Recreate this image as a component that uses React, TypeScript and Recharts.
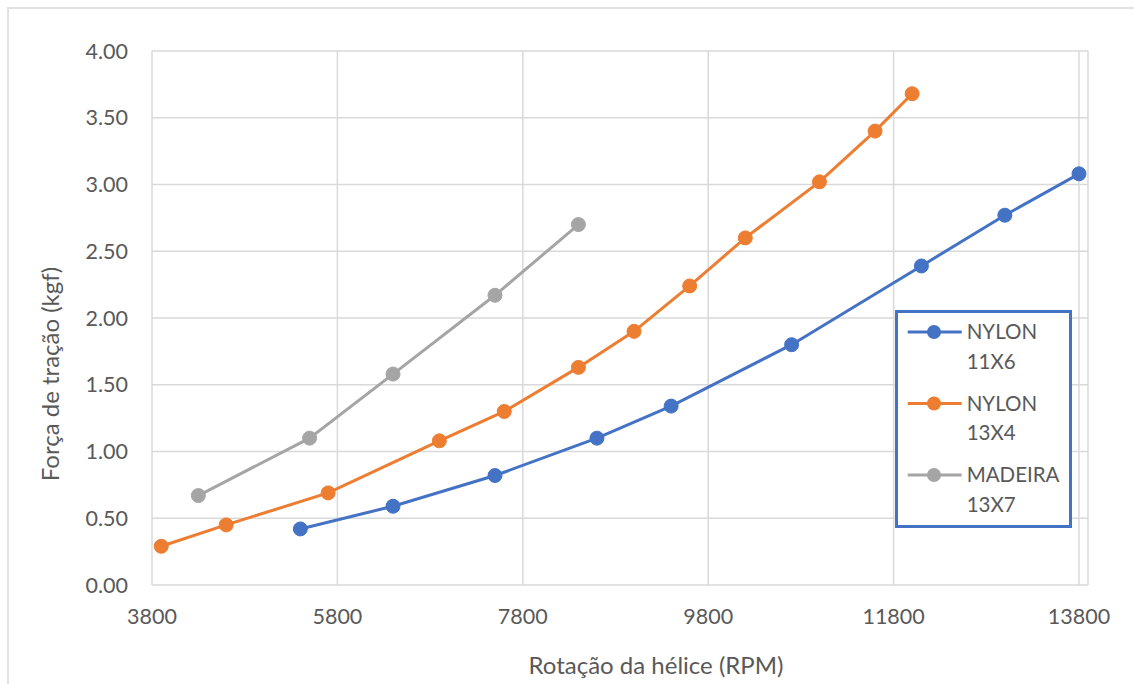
import React from 'react';
import { LineChart, Line, XAxis, YAxis, CartesianGrid, Legend } from 'recharts';

// Propeller thrust tests: rotation (RPM) vs. thrust force (kgf)
const X_TICKS = [3800, 5800, 7800, 9800, 11800, 13800];
const Y_TICKS = [0, 0.5, 1, 1.5, 2, 2.5, 3, 3.5, 4];

const nylon11x6Rpm = [5400, 6400, 7500, 8600, 9400, 10700, 12100, 13000, 13800];
const nylon11x6Force = [0.42, 0.59, 0.82, 1.1, 1.34, 1.8, 2.39, 2.77, 3.08];

const nylon13x4Rpm = [3900, 4600, 5700, 6900, 7600, 8400, 9000, 9600, 10200, 11000, 11600, 12000];
const nylon13x4Force = [0.29, 0.45, 0.69, 1.08, 1.3, 1.63, 1.9, 2.24, 2.6, 3.02, 3.4, 3.68];

const madeira13x7Rpm = [4300, 5500, 6400, 7500, 8400];
const madeira13x7Force = [0.67, 1.1, 1.58, 2.17, 2.7];

const zip = (rpm: number[], force: number[]) => rpm.map((r, i) => ({ rpm: r, force: force[i] }));

const SERIES = [
  { name: 'NYLON 11X6', color: '#4472C4', data: zip(nylon11x6Rpm, nylon11x6Force) },
  { name: 'NYLON 13X4', color: '#ED7D31', data: zip(nylon13x4Rpm, nylon13x4Force) },
  { name: 'MADEIRA 13X7', color: '#A5A5A5', data: zip(madeira13x7Rpm, madeira13x7Force) },
];
const SERIES_ORDER = SERIES.map((s) => s.name);

const FONT = "Lato, 'Open Sans', sans-serif";
const TEXT = '#595959';
const GRID = '#d9d9d9';

const W = 1134;
const H = 684;

const renderYTitle = () => (
  <text
    x={59}
    y={374}
    transform="rotate(-90 59 374)"
    textAnchor="middle"
    fill={TEXT}
    fontSize={24}
    fontFamily={FONT}
  >
    Força de tração (kgf)
  </text>
);

const renderXTitle = () => (
  <text x={656} y={674} textAnchor="middle" fill={TEXT} fontSize={24} fontFamily={FONT}>
    Rotação da hélice (RPM)
  </text>
);

const renderLegend = (props: any) => {
  const payload = [...(props.payload || [])].sort(
    (a: any, b: any) => SERIES_ORDER.indexOf(a.value) - SERIES_ORDER.indexOf(b.value),
  );
  return (
    <svg width={177} height={218} style={{ display: 'block' }}>
      <rect x={1.5} y={1.5} width={174} height={215} fill="#fff" stroke="#4472C4" strokeWidth={3} />
      {payload.map((entry: any, i: number) => {
        const cy = 22 + i * 71.5;
        const words = String(entry.value).split(' ');
        return (
          <g key={entry.value}>
            <line x1={12.7} x2={66.7} y1={cy} y2={cy} stroke={entry.color} strokeWidth={3} />
            <circle cx={39} cy={cy} r={7} fill={entry.color} />
            <text x={71.7} y={cy + 7} fill={TEXT} fontSize={20.5} fontFamily={FONT}>
              {words[0]}
            </text>
            <text x={71.7} y={cy + 36.7} fill={TEXT} fontSize={20.5} fontFamily={FONT}>
              {words.slice(1).join(' ')}
            </text>
          </g>
        );
      })}
    </svg>
  );
};

export default function App() {
  return (
    <div
      style={{
        position: 'fixed',
        left: 0,
        top: 0,
        width: W,
        height: H,
        overflow: 'hidden',
        background: '#fff',
      }}
    >
      <div
        style={{
          position: 'absolute',
          left: 7,
          top: 7,
          width: 1300,
          height: 900,
          border: `2px solid #e2e2e2`,
        }}
      />
      <div style={{ position: 'absolute', left: 0, top: 0 }}>
        <LineChart width={W} height={H} margin={{ top: 51, right: 46, bottom: 59, left: 0 }}>
          <CartesianGrid stroke={GRID} strokeWidth={1.5} />
          <XAxis
            dataKey="rpm"
            type="number"
            domain={[3800, 13897]}
            allowDataOverflow
            ticks={X_TICKS}
            tickLine={false}
            axisLine={false}
            tickSize={0}
            tickMargin={24}
            height={40}
            tick={{ fill: TEXT, fontSize: 21.5, fontFamily: FONT }}
            label={renderXTitle}
          />
          <YAxis
            type="number"
            domain={[0, 4]}
            ticks={Y_TICKS}
            tickFormatter={(v: number) => v.toFixed(2)}
            tickLine={false}
            axisLine={false}
            tickSize={0}
            tickMargin={24}
            width={152}
            tick={{ fill: TEXT, fontSize: 21.5, fontFamily: FONT }}
            label={renderYTitle}
          />
          <Legend
            layout="horizontal"
            verticalAlign="middle"
            align="center"
            wrapperStyle={{ left: 895, top: 310, width: 177, height: 218 }}
            content={renderLegend}
          />
          {SERIES.map((s) => (
            <Line
              key={s.name}
              name={s.name}
              data={s.data}
              dataKey="force"
              stroke={s.color}
              strokeWidth={3}
              dot={{ r: 7, fill: s.color, stroke: s.color, strokeWidth: 1 }}
              activeDot={false}
              isAnimationActive={false}
            />
          ))}
        </LineChart>
      </div>
    </div>
  );
}
